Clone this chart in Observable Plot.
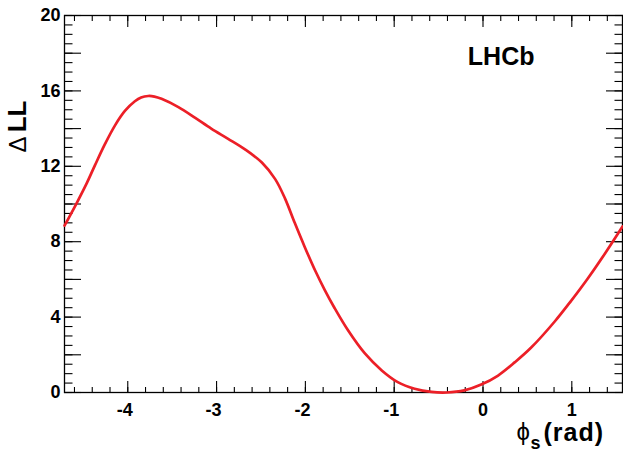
<!DOCTYPE html>
<html>
<head>
<meta charset="utf-8">
<script src="https://cdn.jsdelivr.net/npm/d3@7"></script>
<script src="https://cdn.jsdelivr.net/npm/@observablehq/plot@0.6"></script>
<style>
  html, body { margin: 0; padding: 0; background: #fff; }
  #chart svg { display: block; }
  .wide text { letter-spacing: 1px; }
</style>
</head>
<body>
<div id="chart"></div>
<script>
// Scan of ΔLL versus φs
const phiS = [-4.712, -4.575, -4.46, -4.37, -4.26, -4.14, -4.03, -3.92, -3.85, -3.77,
  -3.70, -3.62, -3.43, -3.24, -3.06, -2.87, -2.68, -2.49, -2.34, -2.23,
  -2.12, -2.01, -1.89, -1.78, -1.67, -1.52, -1.33, -1.14, -0.96, -0.77,
  -0.58, -0.41, -0.21, -0.02, 0.17, 0.36, 0.54, 0.81, 0.99, 1.18,
  1.37, 1.571];
const deltaLL = [8.85, 10.05, 11.12, 12.05, 13.15, 14.2, 14.95, 15.45, 15.65, 15.73,
  15.7, 15.58, 15.14, 14.57, 14.0, 13.46, 12.9, 12.2, 11.32, 10.3,
  9.0, 7.75, 6.47, 5.42, 4.47, 3.3, 2.07, 1.17, 0.55, 0.2,
  0.03, 0.0, 0.11, 0.42, 0.9, 1.61, 2.37, 3.78, 4.85, 6.05,
  7.35, 8.81];

const xDomain = [-3 * Math.PI / 2, Math.PI / 2];
const yDomain = [0, 20];
const xLabelTicks = [-4, -3, -2, -1, 0, 1];
const xMinorTicks = d3.range(-23, 8).map(i => +(i * 0.2).toFixed(1));
const yLabelTicks = [0, 4, 8, 12, 16, 20];
const yMidTicks = [0, 2, 4, 6, 8, 10, 12, 14, 16, 18, 20];
const yMinorTicks = d3.range(0, 41).map(i => i * 0.5);

const xTitle = ["ϕ", "s", "(rad)"];
const yTitle = ["Δ", "LL"];
const experiment = "LHCb";

const data = phiS.map((x, i) => ({x, y: deltaLL[i]}));
const fmt = d => String(d);
const labelFont = {fontSize: 18, fontWeight: "bold"};

const chart = Plot.plot({
  width: 623,
  height: 460,
  marginLeft: 64,
  marginRight: 1,
  marginTop: 15,
  marginBottom: 68,
  style: {fontFamily: "'Liberation Sans', Arial, Helvetica, sans-serif", background: "#fff", color: "#000"},
  x: {domain: xDomain},
  y: {domain: yDomain},
  marks: [
    // inward ticks – bottom & top
    Plot.axisX({anchor: "bottom", ticks: xMinorTicks, tickSize: -5, tickFormat: () => "", label: null, strokeWidth: 1.1}),
    Plot.axisX({anchor: "bottom", ticks: xLabelTicks, tickSize: -11, tickFormat: () => "", label: null, strokeWidth: 1.1}),
    Plot.axisX({anchor: "top", ticks: xMinorTicks, tickSize: -5, tickFormat: () => "", label: null, strokeWidth: 1.1}),
    Plot.axisX({anchor: "top", ticks: xLabelTicks, tickSize: -11, tickFormat: () => "", label: null, strokeWidth: 1.1}),
    // inward ticks – left & right
    Plot.axisY({anchor: "left", ticks: yMinorTicks, tickSize: -8.5, tickFormat: () => "", label: null, strokeWidth: 1.1}),
    Plot.axisY({anchor: "left", ticks: yMidTicks, tickSize: -17, tickFormat: () => "", label: null, strokeWidth: 1.1}),
    Plot.axisY({anchor: "right", ticks: yMinorTicks, tickSize: -8.5, tickFormat: () => "", label: null, strokeWidth: 1.1}),
    Plot.axisY({anchor: "right", ticks: yMidTicks, tickSize: -17, tickFormat: () => "", label: null, strokeWidth: 1.1}),
    // tick labels
    Plot.axisX({anchor: "bottom", ticks: xLabelTicks.filter(d => d < 0), tickSize: 0, tickPadding: 11, dx: -3, tickFormat: fmt, label: null, ...labelFont}),
    Plot.axisX({anchor: "bottom", ticks: xLabelTicks.filter(d => d >= 0), tickSize: 0, tickPadding: 11, tickFormat: fmt, label: null, ...labelFont}),
    Plot.axisY({anchor: "left", ticks: yLabelTicks, tickSize: 0, tickPadding: 4, tickFormat: fmt, label: null, ...labelFont}),
    // frame
    Plot.frame({stroke: "#000", strokeWidth: 1.3}),
    // curve
    Plot.line(data, {x: "x", y: "y", stroke: "#ec1f27", strokeWidth: 2.7, curve: "catmull-rom"}),
    // LHCb label
    Plot.text([experiment], {frameAnchor: "top-right", text: d => d, textAnchor: "end", lineAnchor: "top", dx: -88, dy: 32, fontSize: 25, fontWeight: "bold"}),
    // x title
    Plot.text([xTitle[0]], {frameAnchor: "bottom-right", text: d => d, textAnchor: "start", lineAnchor: "bottom", dx: -106, dy: 47, fontSize: 24, fontWeight: "normal"}),
    Plot.text([xTitle[1]], {frameAnchor: "bottom-right", text: d => d, textAnchor: "start", lineAnchor: "bottom", dx: -92, dy: 56, fontSize: 18, fontWeight: "bold"}),
    Plot.text([xTitle[2]], {frameAnchor: "bottom-right", text: d => d, textAnchor: "start", lineAnchor: "bottom", dx: -79, dy: 48, fontSize: 25, fontWeight: "bold", className: "wide"}),
    // y title
    Plot.text([yTitle[1]], {frameAnchor: "top-left", text: d => d, rotate: -90, textAnchor: "end", lineAnchor: "middle", dx: -46.5, dy: 85, fontSize: 26, fontWeight: "bold"}),
    Plot.text([yTitle[0]], {frameAnchor: "top-left", text: d => d, rotate: -90, textAnchor: "end", lineAnchor: "middle", dx: -46.5, dy: 121, fontSize: 24, fontWeight: "normal"})
  ]
});
document.getElementById("chart").appendChild(chart);
</script>
</body>
</html>
